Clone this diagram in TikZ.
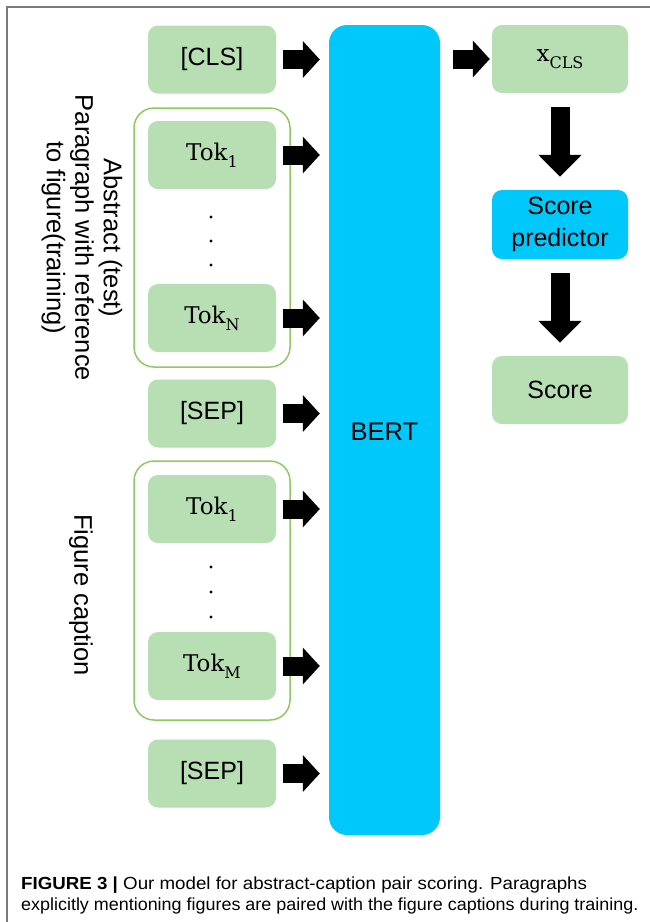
\documentclass[tikz,border=0pt]{standalone}
\usepackage{fontspec}
\usepackage{graphicx}
\newfontfamily\sansf{Liberation Sans}
\newfontfamily\seriff{DejaVu Serif}
\usetikzlibrary{arrows.meta}
\definecolor{boxgreen}{HTML}{B8DEB3}
\definecolor{linegreen}{HTML}{8DCB62}
\definecolor{bertblue}{HTML}{00C8FA}
\definecolor{framegray}{HTML}{7A7A7A}
\newcommand\mysub[1]{\raisebox{-0.3em}{\fontsize{16}{18}\selectfont #1}}
\tikzset{
  gbox/.style={fill=boxgreen, rounded corners=10pt, minimum width=128pt, minimum height=68pt, inner sep=0pt, font=\sansf\fontsize{25}{30}\selectfont},
  tokbox/.style={gbox, font=\seriff\fontsize{23}{28}\selectfont},
  bbox/.style={fill=bertblue, rounded corners=10pt, inner sep=0pt, font=\sansf\fontsize{25}{32}\selectfont, align=center},
  grp/.style={draw=linegreen, line width=1.5pt, rounded corners=20pt, minimum width=156pt, minimum height=259pt, inner sep=0pt},
  rarrow/.style={line width=19pt, -{Triangle[width=36pt,length=17pt]}},
  darrow/.style={line width=19pt, -{Triangle[width=42pt,length=22pt]}},
  dotm/.style={circle, fill=black, inner sep=0pt, minimum size=3.2pt},
  sidelab/.style={rotate=-90, align=center, font=\sansf\fontsize{25.5}{28.5}\selectfont},
  capline/.style={anchor=base west, inner sep=0pt, font=\sansf\fontsize{17.5}{20}\selectfont}
}
\begin{document}
\begin{tikzpicture}[x=1pt,y=-1pt]
\useasboundingbox (0,0) rectangle (650,922);
\draw[framegray, line width=1.5pt] (7,922) -- (7,7) -- (650,7);

% BERT
\node[bbox, rounded corners=18pt, minimum width=111pt, minimum height=810pt] (bert) at (384.5,430) {};
\node[font=\sansf\fontsize{25.5}{30}\selectfont] (bertlab) at (384.5,432) {BERT};

% left column
\node[gbox] (cls) at (212,59.5) {[CLS]};
\node[grp] (g1) at (212,237.5) {};
\node[tokbox] (t1) at (212,155) {Tok\mysub{1}};
\node[dotm] (d1) at (211,217) {};
\node[dotm] (d2) at (211,241) {};
\node[dotm] (d3) at (211,265) {};
\node[tokbox] (tn) at (212,318) {Tok\mysub{N}};
\node[gbox] (sep1) at (212,413.5) {[SEP]};
\node[grp] (g2) at (212,590.5) {};
\node[tokbox] (u1) at (212,509) {Tok\mysub{1}};
\node[dotm] (e1) at (211,567) {};
\node[dotm] (e2) at (211,592) {};
\node[dotm] (e3) at (211,617) {};
\node[tokbox] (um) at (212,666) {Tok\mysub{M}};
\node[gbox] (sep2) at (212,773.5) {[SEP]};

% side labels
\node[sidelab] (lab1) at (82,238) {Abstract (test)\\Paragraph with reference\\to figure(training)};
\node[sidelab] (lab2) at (81,595) {Figure caption};

% right column
\node[tokbox, minimum width=136pt] (xcls) at (560,59) {x\mysub{CLS}};
\node[bbox, minimum width=136pt, minimum height=69pt] (sp) at (560,224.5) {Score\\predictor};
\node[gbox, minimum width=136pt] (score) at (560,390) {Score};

% arrows
\foreach \n in {cls,t1,tn,sep1,u1,um,sep2}{
  \draw[rarrow] ([xshift=7pt]\n.east) -- ([xshift=-9pt]\n.east -| bert.west);
}
\draw[rarrow] ([xshift=13pt]bert.east |- xcls.west) -- ([xshift=-2pt]xcls.west);
\draw[darrow] ([yshift=-14pt]xcls.south) -- ([yshift=13pt]sp.north);
\draw[darrow] ([yshift=-14pt]sp.south) -- ([yshift=13pt]score.north);

% caption
\node[capline] (cap1) at (21,889) {\scalebox{1.07}[1]{\textbf{FIGURE 3 |} Our model for abstract-caption pair scoring. Paragraphs}};
\node[capline] (cap2) at (21,910) {\scalebox{1.025}[1]{explicitly mentioning figures are paired with the figure captions during training.}};
\end{tikzpicture}
\end{document}
